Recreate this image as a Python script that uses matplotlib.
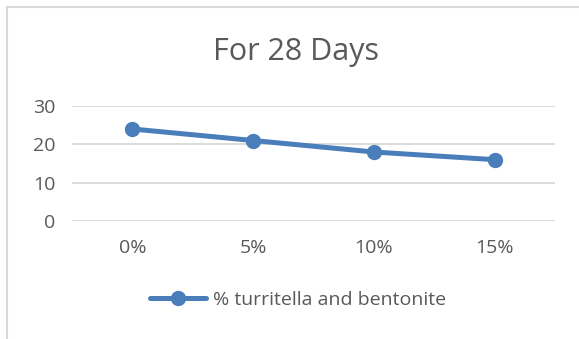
import matplotlib.pyplot as plt
from matplotlib.lines import Line2D

categories = ['0%', '5%', '10%', '15%']
values = [24, 21, 18, 16]
yticks = [0, 10, 20, 30]
series_name = '% turritella and bentonite'
title = 'For 28 Days'

blue = '#4A7EBB'
grey_text = '#595959'
grid_color = '#d9d9d9'

plt.rcParams['font.family'] = ['Open Sans', 'DejaVu Sans']

fig = plt.figure(figsize=(5.79, 3.39), dpi=100)
ax = fig.add_axes([72/579, 118/339, 483/579, 115/339])

x = list(range(len(categories)))
ax.plot(x, values, color=blue, linewidth=3.6, marker='o', markersize=10,
        solid_capstyle='round', label=series_name)

ax.set_xlim(-0.5, len(categories) - 0.5)
ax.set_ylim(0, 30)
ax.set_yticks(yticks)
ax.set_xticks(x)
ax.set_xticklabels(categories)
ax.tick_params(length=0, labelsize=14, colors=grey_text)
ax.tick_params(axis='x', pad=13)
ax.tick_params(axis='y', pad=12)
ax.grid(axis='y', color=grid_color, linewidth=1.3)
ax.set_axisbelow(True)
for s in ax.spines.values():
    s.set_visible(False)

fig.text(296/579, 1 - 52/339, title, ha='center', va='center', fontsize=22, color=grey_text)

leg = fig.legend(handles=[Line2D([], [], color=blue, linewidth=3.6, marker='o', markersize=10,
                                 solid_capstyle='round')],
                 labels=[series_name], loc='center', bbox_to_anchor=(298/579, 1 - 300/339),
                 frameon=False, fontsize=14, handlelength=2.9, handletextpad=0.35)
for t in leg.get_texts():
    t.set_color(grey_text)

# chart border (top and left only visible in the crop)
fig.add_artist(Line2D([7.5/579, 1], [1 - 6.5/339, 1 - 6.5/339], color=grid_color, linewidth=1.5))
fig.add_artist(Line2D([7.5/579, 7.5/579], [0, 1 - 6.5/339], color=grid_color, linewidth=1.5))

fig.savefig('out.png', dpi=100)
